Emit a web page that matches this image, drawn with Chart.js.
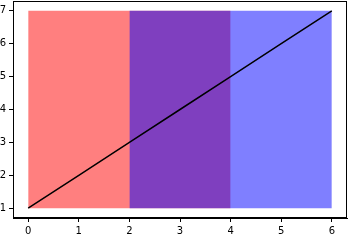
<!DOCTYPE html>
<html><head><meta charset="utf-8">
<script src="https://cdn.jsdelivr.net/npm/chart.js@4"></script>
<style>html,body{margin:0;padding:0;background:#fff}#wrap{width:364px;height:242px}</style>
</head><body><div id="wrap"><canvas id="c" width="364" height="242"></canvas></div>
<script>
// data
const lineX = [0, 1, 2, 3, 4, 5, 6];
const lineY = [1, 2, 3, 4, 5, 6, 7];
const redSpan = [0, 4];
const blueSpan = [2, 6];
const spanBottom = 1;
const spanTop = 7;
const xTicks = [0, 1, 2, 3, 4, 5, 6];
const yTicks = [1, 2, 3, 4, 5, 6, 7];

const frame = {
  id: 'frame',
  afterDraw(chart) {
    const a = chart.chartArea, ctx = chart.ctx;
    ctx.save();
    ctx.strokeStyle = '#000';
    ctx.lineWidth = 1;
    ctx.strokeRect(Math.round(a.left) + 0.5, Math.round(a.top) + 0.5,
      Math.round(a.right - a.left) - 1, Math.round(a.bottom - a.top) - 1);
    ctx.restore();
  }
};

const font = {family: 'DejaVu Sans', size: 10};
new Chart(document.getElementById('c'), {
  type: 'line',
  data: {
    datasets: [
      {data: lineX.map((x, i) => ({x, y: lineY[i]})), borderColor: '#000', borderWidth: 1.5,
       pointRadius: 0, fill: false, order: 0},
      {data: blueSpan.map(x => ({x, y: spanTop})), borderWidth: 0, borderColor: 'rgba(0,0,0,0)',
       backgroundColor: 'rgba(0,0,255,0.5)', pointRadius: 0, fill: {value: spanBottom}, order: 1},
      {data: redSpan.map(x => ({x, y: spanTop})), borderWidth: 0, borderColor: 'rgba(0,0,0,0)',
       backgroundColor: 'rgba(255,0,0,0.5)', pointRadius: 0, fill: {value: spanBottom}, order: 2}
    ]
  },
  options: {
    responsive: false, animation: false,
    layout: {padding: {top: 1, right: 17, left: 0, bottom: 0}},
    plugins: {legend: {display: false}, tooltip: {enabled: false}},
    scales: {
      x: {
        type: 'linear', min: -0.3, max: 6.3,
        afterBuildTicks: s => { s.ticks = xTicks.map(v => ({value: v})); },
        afterFit: s => { s.height = 24; s.paddingLeft = 0; s.paddingRight = 0; },
        grid: {drawOnChartArea: false, tickLength: 4, tickColor: '#000', tickWidth: 1},
        border: {color: '#000', width: 1},
        ticks: {color: '#000', font, padding: 3, maxRotation: 0, autoSkip: false}
      },
      y: {
        type: 'linear', min: 0.7, max: 7.3,
        afterBuildTicks: s => { s.ticks = yTicks.map(v => ({value: v})); },
        afterFit: s => { s.width = 13; s.paddingTop = 0; s.paddingBottom = 0; },
        grid: {drawOnChartArea: false, tickLength: 4, tickColor: '#000', tickWidth: 1},
        border: {color: '#000', width: 1},
        ticks: {color: '#000', font, padding: 3, autoSkip: false}
      }
    }
  },
  plugins: [frame]
});
</script></body></html>
